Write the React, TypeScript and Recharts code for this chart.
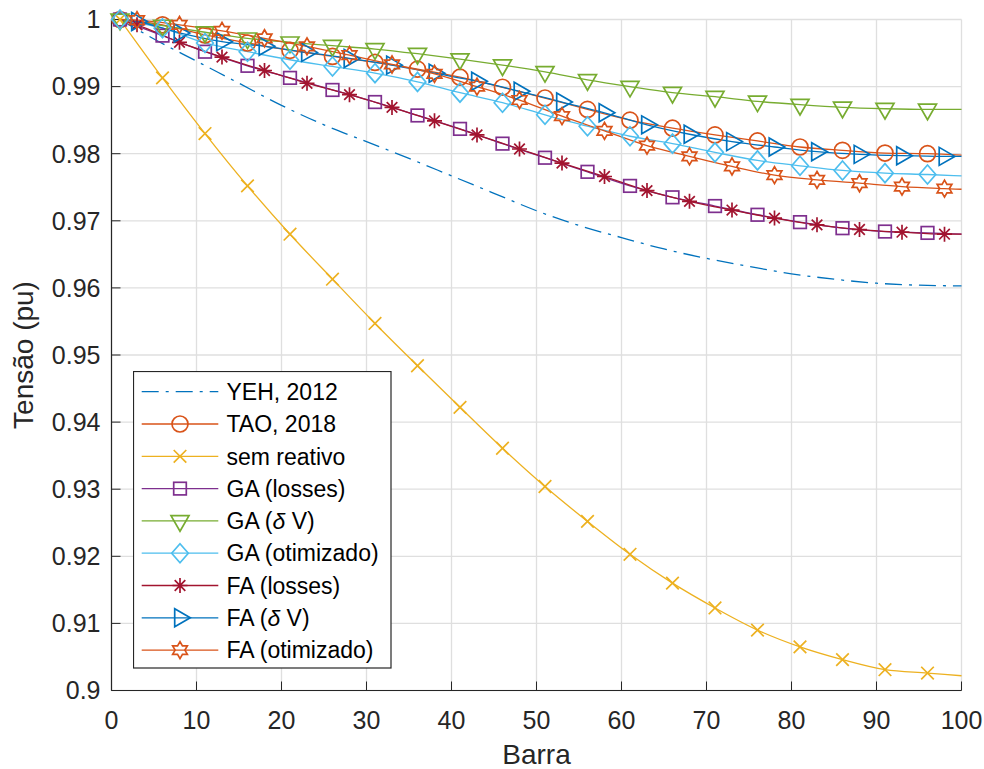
import React from 'react';
import { LineChart, Line, XAxis, YAxis, CartesianGrid, Legend } from 'recharts';

const FONT = '"Liberation Sans", Arial, Helvetica, sans-serif';
const AXIS = '#262626';

// ---- axes ----
const xTicks = [0, 10, 20, 30, 40, 50, 60, 70, 80, 90, 100];
const yTicks = [0.9, 0.91, 0.92, 0.93, 0.94, 0.95, 0.96, 0.97, 0.98, 0.99, 1];
const yTickLabels = ['0.9', '0.91', '0.92', '0.93', '0.94', '0.95', '0.96', '0.97', '0.98', '0.99', '1'];

// ---- bar (barra) positions ----
const barrasA = [1, 6, 11, 16, 21, 26, 31, 36, 41, 46, 51, 56, 61, 66, 71, 76, 81, 86, 91, 96, 100];
const marcasA = [1, 6, 11, 16, 21, 26, 31, 36, 41, 46, 51, 56, 61, 66, 71, 76, 81, 86, 91, 96];
const barrasB = [1, 3, 8, 13, 18, 23, 28, 33, 38, 43, 48, 53, 58, 63, 68, 73, 78, 83, 88, 93, 98, 100];
const marcasB = [3, 8, 13, 18, 23, 28, 33, 38, 43, 48, 53, 58, 63, 68, 73, 78, 83, 88, 93, 98];
const barrasYeh = [1, 5, 10, 15, 20, 25, 30, 35, 40, 45, 50, 55, 60, 65, 70, 75, 80, 85, 90, 95, 100];

// ---- series values (pu) ----
const yeh2012 = [1.0, 0.9971, 0.9938, 0.9905, 0.9872, 0.9843, 0.9818, 0.9793, 0.9767, 0.9741, 0.9715,
  0.9693, 0.9675, 0.9658, 0.9644, 0.9632, 0.9621, 0.9613, 0.9607, 0.9604, 0.9603];
const tao2018 = [1.0, 0.9992, 0.9977, 0.9965, 0.9954, 0.9945, 0.9936, 0.9926, 0.9914, 0.9899, 0.9883,
  0.9866, 0.985, 0.9838, 0.9828, 0.9819, 0.981, 0.9805, 0.9801, 0.98, 0.9798];
const semReativo = [1.0, 0.9913, 0.983, 0.9752, 0.968, 0.9613, 0.9547, 0.9484, 0.9422, 0.9361, 0.9304,
  0.9252, 0.9203, 0.916, 0.9123, 0.909, 0.9065, 0.9046, 0.9031, 0.9026, 0.9022];
const gaLosses = [1.0, 0.9976, 0.9952, 0.9931, 0.9913, 0.9895, 0.9877, 0.9857, 0.9837, 0.9815, 0.9794,
  0.9773, 0.9752, 0.9735, 0.9722, 0.9709, 0.9698, 0.9689, 0.9684, 0.9682, 0.968];
const gaDeltaV = [1.0, 0.9991, 0.9981, 0.9972, 0.9966, 0.9961, 0.9956, 0.9949, 0.9941, 0.9932, 0.9922,
  0.991, 0.99, 0.9891, 0.9885, 0.9878, 0.9873, 0.9869, 0.9867, 0.9866, 0.9866];
const gaOtimizado = [1.0, 0.9987, 0.9965, 0.9952, 0.994, 0.993, 0.992, 0.9907, 0.9891, 0.9876, 0.9858,
  0.9841, 0.9826, 0.9815, 0.9802, 0.979, 0.9782, 0.9775, 0.9771, 0.9769, 0.9767];
const faLosses = [1.0, 0.9992, 0.9966, 0.9944, 0.9924, 0.9905, 0.9888, 0.9869, 0.9849, 0.9828, 0.9807,
  0.9786, 0.9766, 0.9745, 0.9729, 0.9716, 0.9704, 0.9694, 0.9687, 0.9683, 0.968, 0.968];
const faDeltaV = [1.0, 0.9997, 0.998, 0.9967, 0.996, 0.9951, 0.9942, 0.9932, 0.992, 0.9908, 0.9893,
  0.9877, 0.9861, 0.9843, 0.9829, 0.9818, 0.981, 0.9803, 0.9799, 0.9797, 0.9796, 0.9796];
const faOtimizado = [1.0, 0.9999, 0.9992, 0.9983, 0.9972, 0.996, 0.9947, 0.9933, 0.9919, 0.99, 0.988,
  0.9856, 0.9834, 0.9812, 0.9796, 0.9781, 0.9768, 0.9761, 0.9756, 0.9751, 0.9748, 0.9747];

const legendNames = ['YEH, 2012', 'TAO, 2018', 'sem reativo', 'GA (losses)', 'GA (δ V)',
  'GA (otimizado)', 'FA (losses)', 'FA (δ V)', 'FA (otimizado)'];

type MarkerKind = 'none' | 'circle' | 'x' | 'square' | 'triDown' | 'diamond' | 'asterisk' | 'triRight' | 'hexagram';

interface Serie {
  name: string;
  color: string;
  marker: MarkerKind;
  xs: number[];
  ys: number[];
  marks: number[];
  dash?: string;
}

const series: Serie[] = [
  { name: legendNames[0], color: '#0072BD', marker: 'none', xs: barrasYeh, ys: yeh2012, marks: [], dash: '17 7 3 7' },
  { name: legendNames[1], color: '#D95319', marker: 'circle', xs: barrasA, ys: tao2018, marks: marcasA },
  { name: legendNames[2], color: '#EDB120', marker: 'x', xs: barrasA, ys: semReativo, marks: marcasA },
  { name: legendNames[3], color: '#7E2F8E', marker: 'square', xs: barrasA, ys: gaLosses, marks: marcasA },
  { name: legendNames[4], color: '#77AC30', marker: 'triDown', xs: barrasA, ys: gaDeltaV, marks: marcasA },
  { name: legendNames[5], color: '#4DBEEE', marker: 'diamond', xs: barrasA, ys: gaOtimizado, marks: marcasA },
  { name: legendNames[6], color: '#A2142F', marker: 'asterisk', xs: barrasB, ys: faLosses, marks: marcasB },
  { name: legendNames[7], color: '#0072BD', marker: 'triRight', xs: barrasB, ys: faDeltaV, marks: marcasB },
  { name: legendNames[8], color: '#D95319', marker: 'hexagram', xs: barrasB, ys: faOtimizado, marks: marcasB },
];

function Marker({ kind, cx, cy, color }: { kind: MarkerKind; cx: number; cy: number; color: string }) {
  const common = { fill: 'none', stroke: color, strokeWidth: 1.7 };
  switch (kind) {
    case 'circle':
      return <circle cx={cx} cy={cy} r={8} {...common} />;
    case 'x': {
      const s = 6.3;
      return <path d={`M${cx - s},${cy - s}L${cx + s},${cy + s}M${cx - s},${cy + s}L${cx + s},${cy - s}`} {...common} />;
    }
    case 'square': {
      const s = 6.3;
      return <rect x={cx - s} y={cy - s} width={2 * s} height={2 * s} {...common} />;
    }
    case 'triDown':
      return <path d={`M${cx - 9},${cy - 5.3}L${cx + 9},${cy - 5.3}L${cx},${cy + 10.3}Z`} {...common} />;
    case 'diamond':
      return <path d={`M${cx},${cy - 9.5}L${cx + 8.3},${cy}L${cx},${cy + 9.5}L${cx - 8.3},${cy}Z`} {...common} />;
    case 'asterisk': {
      const s = 7.5;
      const d = 5.3;
      return (
        <path
          d={`M${cx},${cy - s}L${cx},${cy + s}M${cx - s},${cy}L${cx + s},${cy}M${cx - d},${cy - d}L${cx + d},${cy + d}M${cx - d},${cy + d}L${cx + d},${cy - d}`}
          {...common}
        />
      );
    }
    case 'triRight':
      return <path d={`M${cx - 5.3},${cy - 9}L${cx - 5.3},${cy + 9}L${cx + 10.3},${cy}Z`} {...common} />;
    case 'hexagram': {
      const R = 8.5;
      const r = R / Math.sqrt(3);
      const pts: string[] = [];
      for (let k = 0; k < 12; k++) {
        const a = ((-90 + 30 * k) * Math.PI) / 180;
        const rad = k % 2 === 0 ? R : r;
        pts.push(`${(cx + rad * Math.cos(a)).toFixed(2)},${(cy + rad * Math.sin(a)).toFixed(2)}`);
      }
      return <polygon points={pts.join(' ')} {...common} />;
    }
    default:
      return null;
  }
}

function LegendLabel({ text, x, y }: { text: string; x: number; y: number }) {
  const parts = text.split('δ');
  return (
    <text x={x} y={y} fontSize={23} fontFamily={FONT} fill="#000">
      {parts.length === 1 ? (
        text
      ) : (
        <>
          <tspan>{parts[0]}</tspan>
          <tspan fontStyle="italic">δ</tspan>
          <tspan>{parts[1]}</tspan>
        </>
      )}
    </text>
  );
}

const renderLegend = () => (
  <svg width={259} height={298} style={{ display: 'block' }}>
    <rect x={0.5} y={0.5} width={257.5} height={296.5} fill="#fff" stroke={AXIS} strokeWidth={1.2} />
    {series.map((s, i) => {
      const cy = 20.7 + 32.3 * i;
      return (
        <g key={s.name}>
          <line x1={8.7} x2={85.3} y1={cy} y2={cy} stroke={s.color} strokeWidth={1.3} strokeDasharray={s.dash} />
          <Marker kind={s.marker} cx={47} cy={cy} color={s.color} />
          <LegendLabel text={s.name} x={93.5} y={cy + 8.2} />
        </g>
      );
    })}
  </svg>
);

const tickStyle = { fill: AXIS, fontSize: 25, fontFamily: FONT };

export default function App() {
  return (
    <div style={{ position: 'absolute', left: 0, top: 0, width: 984, height: 769, background: '#fff' }}>
      <LineChart width={984} height={769} margin={{ top: 19.5, right: 22.5, bottom: 0, left: 0 }}>
        <CartesianGrid stroke="#dfdfdf" strokeWidth={1.3} />
        <XAxis
          type="number"
          dataKey="x"
          domain={[0, 100]}
          ticks={xTicks}
          interval={0}
          height={78.5}
          tickSize={-9}
          tickMargin={30}
          axisLine={{ stroke: AXIS, strokeWidth: 1.2 }}
          tickLine={{ stroke: AXIS, strokeWidth: 1 }}
          tick={tickStyle}
          label={{
            value: 'Barra',
            position: 'insideBottom',
            offset: 5,
            fontSize: 28,
            fill: AXIS,
            fontFamily: FONT,
            style: { fontSize: 28, fill: AXIS, fontFamily: FONT },
          }}
        />
        <YAxis
          type="number"
          domain={[0.9, 1]}
          ticks={yTicks}
          interval={0}
          width={111.5}
          tickSize={-9}
          tickMargin={20}
          tickFormatter={(v: number, i: number) => yTickLabels[i] ?? String(v)}
          axisLine={{ stroke: AXIS, strokeWidth: 1.2 }}
          tickLine={{ stroke: AXIS, strokeWidth: 1 }}
          tick={tickStyle}
          label={{
            value: 'Tensão (pu)',
            angle: -90,
            position: 'insideLeft',
            offset: 23.5,
            fontSize: 28,
            fill: AXIS,
            fontFamily: FONT,
            style: { textAnchor: 'middle', fontSize: 28, fill: AXIS, fontFamily: FONT },
          }}
        />
        <XAxis
          xAxisId="top"
          orientation="top"
          type="number"
          domain={[0, 100]}
          ticks={xTicks}
          interval={0}
          height={0}
          tick={false}
          tickSize={-9}
          axisLine={{ stroke: AXIS, strokeWidth: 1.2 }}
          tickLine={{ stroke: AXIS, strokeWidth: 1 }}
        />
        <YAxis
          yAxisId="right"
          orientation="right"
          type="number"
          domain={[0.9, 1]}
          ticks={yTicks}
          interval={0}
          width={0}
          tick={false}
          tickSize={-9}
          axisLine={{ stroke: AXIS, strokeWidth: 1.2 }}
          tickLine={{ stroke: AXIS, strokeWidth: 1 }}
        />
        {series.map((s) => {
          const data = s.xs.map((x, i) => ({ x, y: s.ys[i], mk: s.marks.includes(x) }));
          return (
            <Line
              key={s.name}
              name={s.name}
              data={data}
              dataKey="y"
              type="monotone"
              stroke={s.color}
              strokeWidth={1.3}
              strokeDasharray={s.dash}
              isAnimationActive={false}
              activeDot={false}
              dot={(p: any) => {
                const { cx, cy, payload, index } = p;
                if (!payload || !payload.mk || cx == null || cy == null) return <g key={`d${index}`} />;
                return (
                  <g key={`d${index}`}>
                    <Marker kind={s.marker} cx={cx} cy={cy} color={s.color} />
                  </g>
                );
              }}
            />
          );
        })}
        <Legend
          layout="vertical"
          verticalAlign="middle"
          align="center"
          content={renderLegend}
          wrapperStyle={{ left: 133, top: 371, width: 259, height: 298, margin: 0, padding: 0, lineHeight: 0 }}
        />
      </LineChart>
    </div>
  );
}
